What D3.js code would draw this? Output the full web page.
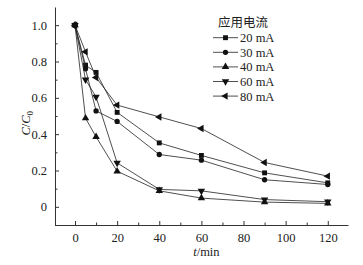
<!DOCTYPE html>
<html lang="en">
<head>
    <meta charset="UTF-8">
    <title>C/C0 vs t</title>
    <script src="https://unpkg.com/d3@7.8.0/dist/d3.min.js"></script>
    <style>
        body { margin: 0px; background: #fff; }
    </style>
</head>
<body>
    <script>
        const times = [0, 5, 10, 20, 40, 60, 90, 120];
        const seriesNames = ['20 mA', '30 mA', '40 mA', '60 mA', '80 mA'];
        const ma20 = [1.0, 0.78, 0.74, 0.52, 0.352, 0.283, 0.187, 0.132];
        const ma30 = [1.0, 0.76, 0.528, 0.47, 0.288, 0.257, 0.149, 0.123];
        const ma40 = [1.0, 0.488, 0.385, 0.196, 0.088, 0.048, 0.026, 0.019];
        const ma60 = [1.0, 0.70, 0.605, 0.242, 0.096, 0.088, 0.04, 0.028];
        const ma80 = [1.0, 0.853, 0.712, 0.56, 0.495, 0.431, 0.244, 0.169];
        const xTicks = [0, 20, 40, 60, 80, 100, 120];
        const yTicks = [0, 0.2, 0.4, 0.6, 0.8, 1.0];

        const allSeries = [ma20, ma30, ma40, ma60, ma80];
        // marker type + rotation per series
        const markers = [
            { type: d3.symbolSquare, size: 24, rot: 0 },
            { type: d3.symbolCircle, size: 22, rot: 0 },
            { type: d3.symbolTriangle, size: 24, rot: 0 },
            { type: d3.symbolTriangle, size: 24, rot: 180 },
            { type: d3.symbolTriangle, size: 24, rot: -90 }
        ];

        const serif = '"Liberation Serif", "Times New Roman", "DejaVu Serif", serif';
        const cjk = '"Noto Sans CJK SC", "Noto Sans", sans-serif';

        const width = 363, height = 265;
        const margin = { top: 7, bottom: 40, left: 55, right: 15 };
        const innerwidth = width - margin.left - margin.right;
        const innerheight = 225 - margin.top;

        const svg = d3.select('body').append('svg')
            .attr('width', width)
            .attr('height', height);

        const g = svg.append('g')
            .attr('transform', `translate(${margin.left}, ${margin.top})`);

        const xScale = d3.scaleLinear().domain([-9.5, 129.6]).range([0, innerwidth]);
        const yScale = d3.scaleLinear().domain([-0.1, 1.1]).range([innerheight, 0]);

        // minor ticks
        const xMinor = d3.range(0, 130, 10).filter(d => xTicks.indexOf(d) < 0);
        const yMinor = d3.range(-1, 11, 1).map(d => d / 10).filter(d => yTicks.indexOf(d) < 0);

        const axisColor = '#333';

        // x axis
        const xAxisG = g.append('g').attr('transform', `translate(0, ${innerheight})`);
        xAxisG.call(d3.axisBottom(xScale).tickValues(xTicks).tickSizeInner(-4).tickSizeOuter(0).tickPadding(8));
        xAxisG.append('g').call(d3.axisBottom(xScale).tickValues(xMinor).tickSizeInner(-2.5).tickSizeOuter(0).tickFormat(''))
            .select('.domain').remove();
        xAxisG.selectAll('.tick text').style('font-size', '12.5px').style('font-family', serif).attr('fill', '#222');
        xAxisG.selectAll('.tick line, .domain').attr('stroke', axisColor).attr('stroke-width', 1);

        // y axis
        const yAxisG = g.append('g');
        yAxisG.call(d3.axisLeft(yScale).tickValues(yTicks).tickSizeInner(-4).tickSizeOuter(0).tickPadding(8)
            .tickFormat(d => d === 0 ? '0' : d3.format('.1f')(d)));
        yAxisG.append('g').call(d3.axisLeft(yScale).tickValues(yMinor).tickSizeInner(-2.5).tickSizeOuter(0).tickFormat(''))
            .select('.domain').remove();
        yAxisG.selectAll('.tick text').style('font-size', '12.5px').style('font-family', serif).attr('fill', '#222');
        yAxisG.selectAll('.tick line, .domain').attr('stroke', axisColor).attr('stroke-width', 1);

        // axis labels
        const xLabel = g.append('text')
            .attr('x', xScale(60) + 5)
            .attr('y', innerheight + 31)
            .attr('text-anchor', 'middle')
            .attr('fill', '#222')
            .style('font-family', serif)
            .style('font-size', '12.5px');
        xLabel.append('tspan').style('font-style', 'italic').text('t');
        xLabel.append('tspan').text('/min');

        const yLabel = g.append('text')
            .attr('transform', `translate(${-25}, ${yScale(0.46)}) rotate(-90)`)
            .attr('text-anchor', 'middle')
            .attr('fill', '#222')
            .style('font-family', serif)
            .style('font-size', '12.5px');
        yLabel.append('tspan').style('font-style', 'italic').text('C');
        yLabel.append('tspan').text('/');
        yLabel.append('tspan').style('font-style', 'italic').text('C');
        yLabel.append('tspan').attr('dy', 3).style('font-size', '9px').text('0');

        // lines
        const line = d3.line()
            .x((d, i) => xScale(times[i]))
            .y(d => yScale(d));

        const symbolPath = (m) => d3.symbol().type(m.type).size(m.size)();

        allSeries.forEach((vals, si) => {
            g.append('path')
                .datum(vals)
                .attr('d', line)
                .attr('fill', 'none')
                .attr('stroke', '#222')
                .attr('stroke-width', 0.8);

            g.selectAll('.pt' + si).data(vals).enter().append('path')
                .attr('class', 'pt' + si)
                .attr('d', symbolPath(markers[si]))
                .attr('transform', (d, i) => `translate(${xScale(times[i])}, ${yScale(d)}) rotate(${markers[si].rot})`)
                .attr('fill', '#111');
        });

        // legend
        const legend = svg.append('g').attr('transform', 'translate(213, 0)');
        legend.append('text')
            .attr('x', 30)
            .attr('y', 27)
            .attr('text-anchor', 'middle')
            .attr('fill', '#222')
            .style('font-family', cjk)
            .style('font-size', '12.5px')
            .text('应用电流');

        seriesNames.forEach((name, i) => {
            const ly = 37.7 + i * 14.6;
            legend.append('line')
                .attr('x1', 0).attr('x2', 25)
                .attr('y1', ly).attr('y2', ly)
                .attr('stroke', '#222').attr('stroke-width', 0.8);
            legend.append('path')
                .attr('d', symbolPath(markers[i]))
                .attr('transform', `translate(12.5, ${ly}) rotate(${markers[i].rot})`)
                .attr('fill', '#111');
            legend.append('text')
                .attr('x', 27)
                .attr('y', ly + 4.5)
                .attr('fill', '#222')
                .style('font-family', serif)
                .style('font-size', '12.5px')
                .text(name);
        });
    </script>
</body>
</html>
